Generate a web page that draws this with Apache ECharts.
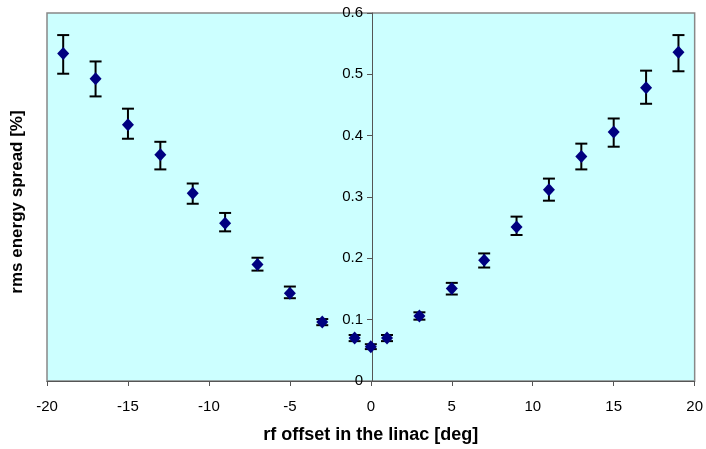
<!DOCTYPE html>
<html>
<head>
<meta charset="utf-8">
<script src="https://cdn.jsdelivr.net/npm/echarts@6/dist/echarts.min.js"></script>
<style>html,body{margin:0;padding:0;background:#fff;}#c{width:706px;height:449px;}</style>
</head>
<body>
<div id="c"></div>
<script>
var offsets = [-19, -17, -15, -13, -11, -9, -7, -5, -3, -1, 0, 1, 3, 5, 7, 9, 11, 13, 15, 17, 19];
var spread  = [0.534, 0.493, 0.418, 0.369, 0.306, 0.257, 0.190, 0.143, 0.096, 0.070, 0.056, 0.070, 0.106, 0.151, 0.197, 0.251, 0.312, 0.366, 0.406, 0.478, 0.536];
var errLow  = [0.501, 0.464, 0.395, 0.345, 0.289, 0.244, 0.180, 0.135, 0.091, 0.065, 0.052, 0.065, 0.100, 0.141, 0.185, 0.238, 0.294, 0.345, 0.382, 0.452, 0.505];
var errHigh = [0.564, 0.521, 0.444, 0.390, 0.322, 0.274, 0.201, 0.154, 0.101, 0.075, 0.060, 0.075, 0.112, 0.160, 0.208, 0.268, 0.330, 0.387, 0.428, 0.506, 0.564];
var xTicks = [-20, -15, -10, -5, 0, 5, 10, 15, 20];
var yTicks = [0, 0.1, 0.2, 0.3, 0.4, 0.5, 0.6];

var pts = offsets.map(function (x, i) { return [x, spread[i]]; });
var errs = offsets.map(function (x, i) { return [x, errLow[i], errHigh[i]]; });

var gridLeft = 47, gridRight = 9, W = 706;
var yAxisOffset = -((W - gridLeft - gridRight) * (0 - xTicks[0]) / (xTicks[xTicks.length - 1] - xTicks[0]));

var chart = echarts.init(document.getElementById('c'), null, {renderer: 'canvas'});
chart.setOption({
  animation: false,
  backgroundColor: '#ffffff',
  grid: {
    left: gridLeft, right: gridRight, top: 13, bottom: 66,
    show: true, backgroundColor: '#CCFFFF', borderColor: '#888888', borderWidth: 1.5
  },
  xAxis: {
    type: 'value', min: xTicks[0], max: xTicks[xTicks.length - 1], interval: 5,
    name: 'rf offset in the linac [deg]', nameLocation: 'middle', nameGap: 45,
    nameTextStyle: {fontFamily: 'Liberation Sans, Arial', fontWeight: 'bold', fontSize: 18, color: '#000'},
    axisLine: {onZero: false, lineStyle: {color: '#555555', width: 1}},
    axisTick: {inside: false, length: 5, lineStyle: {color: '#555555'}},
    axisLabel: {fontFamily: 'Liberation Sans, Arial', fontSize: 15, color: '#000', margin: 18},
    splitLine: {show: false}
  },
  yAxis: {
    type: 'value', min: yTicks[0], max: yTicks[yTicks.length - 1], interval: 0.1,
    position: 'left', offset: yAxisOffset,
    axisLine: {show: true, onZero: false, lineStyle: {color: '#555555', width: 1}},
    axisTick: {show: true, inside: false, length: 5, lineStyle: {color: '#555555'}},
    axisLabel: {fontFamily: 'Liberation Sans, Arial', fontSize: 15, color: '#000', margin: 9},
    splitLine: {show: false}
  },
  graphic: [{
    type: 'text', x: 17, y: 202, rotation: Math.PI / 2,
    style: {text: 'rms energy spread [%]', fontFamily: 'Liberation Sans, Arial', fontWeight: 'bold', fontSize: 17, fill: '#000', align: 'center', verticalAlign: 'middle'}
  }],
  series: [{
    type: 'custom',
    data: errs,
    z: 2,
    renderItem: function (params, api) {
      var x = api.value(0);
      var lo = api.coord([x, api.value(1)]);
      var hi = api.coord([x, api.value(2)]);
      var hw = 6;
      var st = {stroke: '#000', lineWidth: 2};
      return {type: 'group', children: [
        {type: 'line', shape: {x1: lo[0], y1: lo[1], x2: hi[0], y2: hi[1]}, style: st},
        {type: 'line', shape: {x1: lo[0] - hw, y1: lo[1], x2: lo[0] + hw, y2: lo[1]}, style: st},
        {type: 'line', shape: {x1: hi[0] - hw, y1: hi[1], x2: hi[0] + hw, y2: hi[1]}, style: st}
      ]};
    }
  }, {
    type: 'scatter',
    data: pts,
    z: 3,
    symbol: 'diamond',
    symbolSize: [12, 13],
    itemStyle: {color: '#000080', opacity: 1}
  }]
});
</script>
</body>
</html>
